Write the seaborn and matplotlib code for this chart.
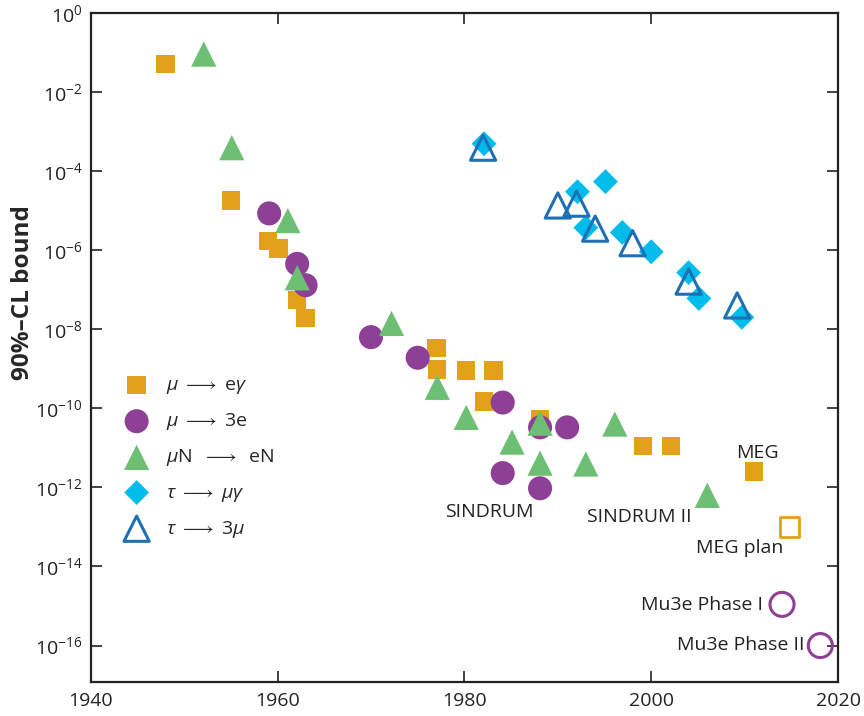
import numpy as np
import pandas as pd
import matplotlib
matplotlib.use("Agg")
import matplotlib.pyplot as plt
import seaborn as sns

# ---- data ----
mueg_year = [1948.0, 1955.0, 1959.0, 1960.1, 1962.1, 1963.0, 1977.0, 1977.1, 1980.2,
             1983.1, 1982.1, 1988.1, 1999.1, 2002.1, 2011.0]
mueg_bound = [5.1e-2, 1.8e-5, 1.7e-6, 1.1e-6, 5.4e-8, 1.9e-8, 3.3e-9, 9.5e-10, 9.1e-10,
              9.1e-10, 1.5e-10, 5.2e-11, 1.1e-11, 1.1e-11, 2.5e-12]

mu3e_year = [1959.1, 1962.1, 1963.0, 1970.0, 1975.0, 1984.1, 1988.1, 1991.0, 1984.1, 1988.1]
mu3e_bound = [8.5e-6, 4.5e-7, 1.3e-7, 6.3e-9, 1.9e-9, 1.4e-10, 3.3e-11, 3.3e-11, 2.3e-12, 9.5e-13]

muN_year = [1952.1, 1955.1, 1961.1, 1962.1, 1972.2, 1977.1, 1980.2, 1985.1, 1988.1,
            1988.1, 1993.0, 1996.1, 2006.0]
muN_bound = [9.1e-2, 3.9e-4, 5.6e-6, 2.0e-7, 1.4e-8, 3.4e-10, 5.9e-11, 1.4e-11, 4.2e-11,
             4.1e-12, 3.9e-12, 4.0e-11, 6.3e-13]

taumug_year = [1982.1, 1995.1, 1992.1, 1993.0, 1996.9, 2000.0, 2004.0, 2005.1, 2009.7]
taumug_bound = [4.9e-4, 5.4e-5, 3.0e-5, 3.7e-6, 2.8e-6, 9.1e-7, 2.7e-7, 6.0e-8, 2.0e-8]

tau3mu_year = [1982.0, 1990.0, 1992.0, 1994.0, 1998.0, 2004.0, 2009.2]
tau3mu_bound = [3.9e-4, 1.35e-5, 1.5e-5, 3.5e-6, 1.5e-6, 1.6e-7, 4.0e-8]

# planned experiments (open markers)
meg_plan_year = [2014.8]
meg_plan_bound = [1.0e-13]
mu3e_plan_year = [2014.0, 2018.1]
mu3e_plan_bound = [1.1e-15, 1.0e-16]

labels = [r"$\mu \;\longrightarrow\; \mathrm{e}\gamma$",
          r"$\mu \;\longrightarrow\; \mathrm{3e}$",
          r"$\mu\mathrm{N} \;\;\longrightarrow\;\; \mathrm{eN}$",
          r"$\tau \;\longrightarrow\; \mu\gamma$",
          r"$\tau \;\longrightarrow\; \mathrm{3}\mu$"]

ORANGE = "#E3A019"
PURPLE = "#8E3F96"
GREEN = "#6CBF73"
CYAN = "#00BCEB"
BLUE = "#1F6FB5"
INK = "#222222"

sns.set_style("ticks")
plt.rcParams.update({
    "font.family": ["Open Sans", "DejaVu Sans"],
    "mathtext.fontset": "custom",
    "mathtext.rm": "Open Sans",
    "mathtext.it": "Open Sans:italic",
    "mathtext.bf": "Open Sans:bold",
    "xtick.direction": "in",
    "ytick.direction": "in",
})

fig = plt.figure(figsize=(8.64, 7.16), dpi=100)
ax = fig.add_axes([0.105, 0.047, 0.865, 0.935])

sns.scatterplot(x=mueg_year, y=mueg_bound, marker="s", s=175, color=ORANGE,
                edgecolor="none", ax=ax, label=labels[0], zorder=3)
sns.scatterplot(x=mu3e_year, y=mu3e_bound, marker="o", s=300, color=PURPLE,
                edgecolor="none", ax=ax, label=labels[1], zorder=4)
sns.scatterplot(x=muN_year, y=muN_bound, marker="^", s=330, color=GREEN,
                edgecolor="none", ax=ax, label=labels[2], zorder=5)
sns.scatterplot(x=taumug_year, y=taumug_bound, marker="D", s=160, color=CYAN,
                edgecolor="none", ax=ax, label=labels[3], zorder=6)
ax.scatter(tau3mu_year, tau3mu_bound, marker="^", s=330, facecolors="none",
           edgecolors=BLUE, linewidths=2.2, label=labels[4], zorder=7)

ax.scatter(meg_plan_year, meg_plan_bound, marker="s", s=190, facecolors="none",
           edgecolors=ORANGE, linewidths=2.0, zorder=7)
ax.scatter(mu3e_plan_year, mu3e_plan_bound, marker="o", s=300, facecolors="none",
           edgecolors=PURPLE, linewidths=2.2, zorder=7, clip_on=False)

# experiment names
fs_txt = 14
ax.text(1982.7, 10**-12.63, "SINDRUM", ha="center", va="center", fontsize=fs_txt, color=INK)
ax.text(1998.7, 10**-12.75, "SINDRUM II", ha="center", va="center", fontsize=fs_txt, color=INK)
ax.text(2011.4, 10**-11.14, "MEG", ha="center", va="center", fontsize=fs_txt, color=INK)
ax.text(2009.5, 10**-13.54, "MEG plan", ha="center", va="center", fontsize=fs_txt, color=INK)
ax.text(2012.0, 10**-14.97, "Mu3e Phase I", ha="right", va="center", fontsize=fs_txt, color=INK)
ax.text(2016.4, 10**-15.98, "Mu3e Phase II", ha="right", va="center", fontsize=fs_txt, color=INK)

ax.set_yscale("log")
ax.set_xlim(1940, 2020)
ax.set_ylim(10**-16.93, 1)
ax.set_xticks([1940, 1960, 1980, 2000, 2020])
ax.set_yticks([10.0 ** (-k) for k in range(0, 17, 2)])
ax.set_yticklabels([r"$10^{%d}$" % (-k) if k else r"$10^{0}$" for k in range(0, 17, 2)])
ax.minorticks_off()
ax.tick_params(axis="both", which="major", length=8, width=1.2, labelsize=14,
               top=True, right=True, color=INK, labelcolor=INK)
ax.tick_params(axis="x", pad=7)
ax.tick_params(axis="y", pad=6)
for sp in ax.spines.values():
    sp.set_linewidth(1.6)
    sp.set_color(INK)

ax.set_xlabel("")
ax.set_ylabel("90%–CL bound", fontsize=17.5, fontweight="bold")
ax.yaxis.set_label_coords(-0.075, 0.582)

ax.legend(loc="upper left", bbox_to_anchor=(0.025, 0.469), frameon=False,
          fontsize=14, handletextpad=0.5, labelspacing=0.78, borderaxespad=0.0)

fig.savefig("out.png", dpi=100)
